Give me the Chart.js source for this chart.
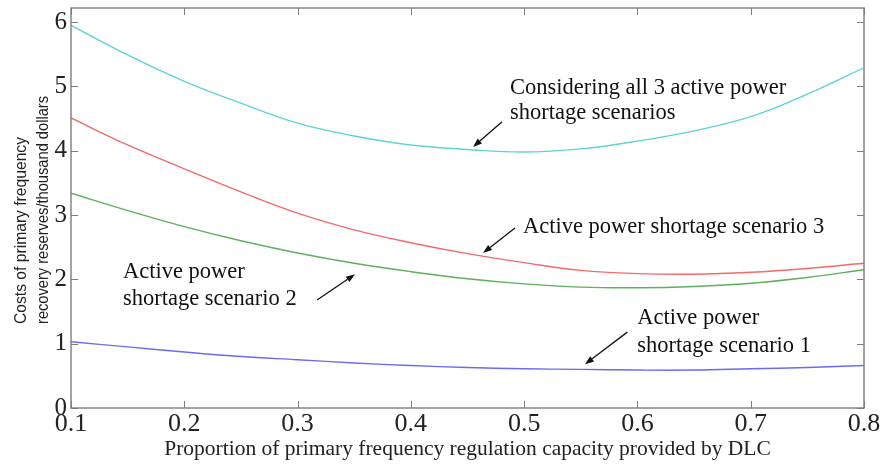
<!DOCTYPE html>
<html>
<head>
<meta charset="utf-8">
<script src="https://cdn.jsdelivr.net/npm/chart.js@4.4.1/dist/chart.umd.min.js"></script>
<style>
  html, body { margin: 0; padding: 0; background: #ffffff; }
  #wrap { width: 881px; height: 465px; position: relative; }
</style>
</head>
<body>
<div id="wrap"><canvas id="c" width="881" height="465"></canvas></div>
<script>
// ---- data ----
const xValues = [0.1, 0.15, 0.2, 0.25, 0.3, 0.35, 0.4, 0.45, 0.5, 0.55, 0.6, 0.65, 0.7, 0.75, 0.8];
const allScenarios = [5.95, 5.49, 5.08, 4.74, 4.43, 4.23, 4.09, 4.02, 3.98, 4.03, 4.15, 4.31, 4.53, 4.88, 5.29];
const scenario3    = [4.51, 4.09, 3.72, 3.36, 3.03, 2.77, 2.57, 2.40, 2.26, 2.14, 2.09, 2.08, 2.11, 2.17, 2.25];
const scenario2    = [3.34, 3.07, 2.82, 2.60, 2.41, 2.25, 2.12, 2.01, 1.93, 1.88, 1.87, 1.89, 1.94, 2.03, 2.15];
const scenario1    = [1.03, 0.95, 0.87, 0.80, 0.75, 0.70, 0.66, 0.63, 0.61, 0.60, 0.59, 0.59, 0.61, 0.63, 0.66];
const xTicks = [0.1, 0.2, 0.3, 0.4, 0.5, 0.6, 0.7, 0.8];
const yTicks = [0, 1, 2, 3, 4, 5, 6];
const xTitle = 'Proportion of primary frequency regulation capacity provided by DLC';
const yTitleLines = ['Costs of primary frequency', 'recovery reserves/thousand dollars'];

// annotation texts and anchor points (data coordinates)
const notes = [
  { lines: ['Considering all 3 active power', 'shortage scenarios'], x: 0.4875, y: [4.97, 4.58], from: [0.4805, 4.45], to: [0.4549, 4.06] },
  { lines: ['Active power shortage scenario 3'], x: 0.499, y: [2.81], from: [0.4919, 2.80], to: [0.4637, 2.41] },
  { lines: ['Active power', 'shortage scenario 2'], x: 0.1459, y: [2.11, 1.69], from: [0.3172, 1.68], to: [0.3507, 2.08] },
  { lines: ['Active power', 'shortage scenario 1'], x: 0.5999, y: [1.40, 0.96], from: [0.5911, 1.18], to: [0.5537, 0.68] }
];

const pts = arr => arr.map((v, i) => ({ x: xValues[i], y: v }));
const serif = '"Liberation Serif", "Times New Roman", serif';

const framePlugin = {
  id: 'frame',
  afterDatasetsDraw(chart) {
    const { ctx, chartArea: a, scales: { x, y } } = chart;
    ctx.save();
    ctx.strokeStyle = '#7d7d7d';
    ctx.lineWidth = 1.4;
    ctx.strokeRect(a.left, a.top, a.right - a.left, a.bottom - a.top);
    const tl = 7;
    ctx.beginPath();
    xTicks.forEach(v => {
      const px = Math.round(x.getPixelForValue(v)) + 0.5;
      ctx.moveTo(px, a.bottom); ctx.lineTo(px, a.bottom - tl);
      ctx.moveTo(px, a.top); ctx.lineTo(px, a.top + tl);
    });
    yTicks.forEach(v => {
      const py = Math.round(y.getPixelForValue(v)) + 0.5;
      ctx.moveTo(a.left, py); ctx.lineTo(a.left + tl, py);
      ctx.moveTo(a.right, py); ctx.lineTo(a.right - tl, py);
    });
    ctx.lineWidth = 1;
    ctx.stroke();
    ctx.restore();
  },
  afterDraw(chart) {
    const { ctx, scales: { x, y } } = chart;
    ctx.save();
    // annotations
    ctx.fillStyle = '#111';
    ctx.strokeStyle = '#111';
    ctx.font = '22.5px ' + serif;
    ctx.textAlign = 'left';
    ctx.textBaseline = 'middle';
    notes.forEach(n => {
      n.lines.forEach((t, i) => {
        ctx.fillText(t, x.getPixelForValue(n.x), y.getPixelForValue(n.y[i]));
      });
      const x1 = x.getPixelForValue(n.from[0]), y1 = y.getPixelForValue(n.from[1]);
      const x2 = x.getPixelForValue(n.to[0]), y2 = y.getPixelForValue(n.to[1]);
      const ang = Math.atan2(y2 - y1, x2 - x1);
      const hl = 9, hw = 3.2;
      const bx = x2 - hl * Math.cos(ang), by = y2 - hl * Math.sin(ang);
      ctx.lineWidth = 1.3;
      ctx.beginPath(); ctx.moveTo(x1, y1); ctx.lineTo(bx, by); ctx.stroke();
      ctx.beginPath();
      ctx.moveTo(x2, y2);
      ctx.lineTo(bx + hw * Math.sin(ang), by - hw * Math.cos(ang));
      ctx.lineTo(bx - hw * Math.sin(ang), by + hw * Math.cos(ang));
      ctx.closePath(); ctx.fill();
    });
    // y-axis title (two lines, rotated, narrow sans)
    ctx.fillStyle = '#222';
    ctx.font = '17px "Liberation Sans", Arial, sans-serif';
    ctx.textBaseline = 'alphabetic';
    ctx.textAlign = 'left';
    const targetLen = [187, 228];
    const startY = 324;
    const baseX = [26, 48];
    yTitleLines.forEach((t, i) => {
      const sx = targetLen[i] / ctx.measureText(t).width;
      ctx.save();
      ctx.translate(baseX[i], startY);
      ctx.rotate(-Math.PI / 2);
      ctx.scale(sx, 1);
      ctx.fillText(t, 0, 0);
      ctx.restore();
    });
    ctx.restore();
  }
};

const lineDs = (label, data, color) => ({
  label, data: pts(data), borderColor: color, backgroundColor: color,
  borderWidth: 1.4, pointRadius: 0, fill: false, tension: 0.4
});

new Chart(document.getElementById('c'), {
  type: 'line',
  data: {
    datasets: [
      lineDs('Considering all 3 active power shortage scenarios', allScenarios, '#5fd2d6'),
      lineDs('Active power shortage scenario 3', scenario3, '#f26a6a'),
      lineDs('Active power shortage scenario 2', scenario2, '#5db05d'),
      lineDs('Active power shortage scenario 1', scenario1, '#6a6af2')
    ]
  },
  options: {
    responsive: false,
    animation: false,
    layout: { padding: { left: 0, right: 17, top: 8, bottom: 0 } },
    plugins: { legend: { display: false }, tooltip: { enabled: false } },
    scales: {
      x: {
        type: 'linear', min: 0.1, max: 0.8,
        afterBuildTicks: s => { s.ticks = xTicks.map(v => ({ value: v })); },
        afterFit: s => { s.height = 57; s.paddingLeft = 0; s.paddingRight = 0; },
        grid: { display: false, drawTicks: false },
        border: { display: false },
        ticks: { color: '#222', font: { family: serif, size: 26 }, padding: 1, maxRotation: 0,
                 callback: v => String(v) },
        title: { display: true, text: xTitle, color: '#222', font: { family: serif, size: 21.5 },
                 padding: { top: 0, bottom: 3 } }
      },
      y: {
        type: 'linear', min: 0, max: 6.22,
        afterBuildTicks: s => { s.ticks = yTicks.map(v => ({ value: v })); },
        afterFit: s => { s.width = 71; s.paddingTop = 0; s.paddingBottom = 0; },
        grid: { display: false, drawTicks: false },
        border: { display: false },
        ticks: { color: '#222', font: { family: serif, size: 25 }, padding: 4 }
      }
    }
  },
  plugins: [framePlugin]
});
</script>
</body>
</html>
